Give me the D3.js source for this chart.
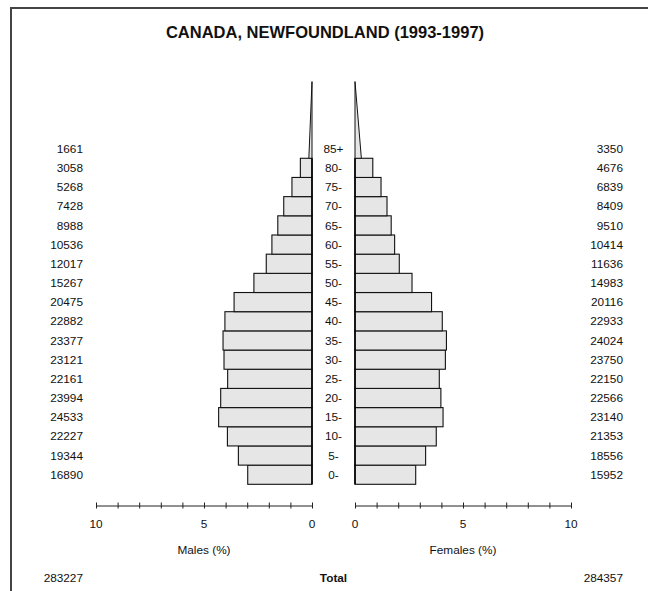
<!DOCTYPE html>
<html>
<head>
<meta charset="utf-8">
<script src="https://cdn.jsdelivr.net/npm/d3@7"></script>
<style>
  body { margin: 0; background: #fff; }
  text { font-family: "Liberation Sans", Arial, Helvetica, sans-serif; fill: #111; }
</style>
</head>
<body>
<div id="chart"></div>
<script>
// age groups, youngest first
var ageGroups = ["0-", "5-", "10-", "15-", "20-", "25-", "30-", "35-", "40-", "45-",
                 "50-", "55-", "60-", "65-", "70-", "75-", "80-", "85+"];
var males   = [16890, 19344, 22227, 24533, 23994, 22161, 23121, 23377, 22882, 20475,
               15267, 12017, 10536, 8988, 7428, 5268, 3058, 1661];
var females = [15952, 18556, 21353, 23140, 22566, 22150, 23750, 24024, 22933, 20116,
               14983, 11636, 10414, 9510, 8409, 6839, 4676, 3350];
var totalMales = 283227, totalFemales = 284357;
var axisTicks = [0, 1, 2, 3, 4, 5, 6, 7, 8, 9, 10];
var axisLabels = [0, 5, 10];
var title = "CANADA, NEWFOUNDLAND (1993-1997)";

var W = 648, H = 591;
var fs = "11.8px";
var grand = totalMales + totalFemales;
var pct = function (v) { return v / grand * 100; };

var svg = d3.select("#chart").append("svg").attr("width", W).attr("height", H);

// frame (left + top only, the rest runs off the page)
svg.append("path")
    .attr("d", "M11," + H + "V8H" + W)
    .style("fill", "none").style("stroke", "#444").style("stroke-width", 2);

svg.append("text").attr("x", 325).attr("y", 38)
    .attr("text-anchor", "middle")
    .style("font-weight", "bold").style("font-size", "16.5px")
    .text(title);

var xM = d3.scaleLinear().domain([0, 10]).range([312, 96]);
var xF = d3.scaleLinear().domain([0, 10]).range([355, 571]);
var y = d3.scaleBand().domain(ageGroups).range([484.3, 139.1]);
var step = y.step();

var data = ageGroups.map(function (a, i) {
    return {age: a, m: males[i], f: females[i]};
});
var boxed = data.filter(function (d) { return d.age != "85+"; });
var last = data[data.length - 1];

function bars(xs, key) {
    svg.append("g").selectAll("rect").data(boxed).enter().append("rect")
        .attr("x", function (d) { return Math.min(xs(0), xs(pct(d[key]))); })
        .attr("y", function (d) { return y(d.age); })
        .attr("width", function (d) { return Math.abs(xs(pct(d[key])) - xs(0)); })
        .attr("height", step)
        .style("fill", "#e6e6e6").style("stroke", "#111").style("stroke-width", 1.1);

    // open-ended 85+ group drawn as a triangle over 4 rows, same area as a bar
    var base = y("80-");
    var tip = base - 4 * step;
    var w = xs(pct(last[key]) / 2);
    svg.append("path")
        .attr("d", "M" + xs(0) + "," + base + "L" + w + "," + base + "L" + xs(0) + "," + tip + "Z")
        .style("fill", "#e6e6e6").style("stroke", "#111").style("stroke-width", 1);

    svg.append("line")
        .attr("x1", xs(0)).attr("x2", xs(0))
        .attr("y1", base).attr("y2", y.range()[0])
        .style("stroke", "#000").style("stroke-width", 1.6);
}
bars(xM, "m");
bars(xF, "f");

// row labels
var labels = svg.append("g").style("font-size", fs);
labels.selectAll(".ml").data(data).enter().append("text")
    .attr("x", 83).attr("y", function (d) { return y(d.age) + step / 2; })
    .attr("dy", "0.35em").attr("text-anchor", "end")
    .text(function (d) { return d.m; });
labels.selectAll(".fl").data(data).enter().append("text")
    .attr("x", 623).attr("y", function (d) { return y(d.age) + step / 2; })
    .attr("dy", "0.35em").attr("text-anchor", "end")
    .text(function (d) { return d.f; });
labels.selectAll(".al").data(data).enter().append("text")
    .attr("x", 333.5).attr("y", function (d) { return y(d.age) + step / 2; })
    .attr("dy", "0.35em").attr("text-anchor", "middle")
    .text(function (d) { return d.age; });

// axes
function axis(xs, name) {
    var g = svg.append("g").attr("transform", "translate(0,505.5)");
    g.call(d3.axisBottom(xs).tickValues(axisTicks).tickSizeInner(3).tickSizeOuter(0).tickFormat(""));
    g.selectAll("line").attr("y1", -3).style("stroke", "#222");
    g.select(".domain").style("stroke", "#222");
    g.selectAll(".lab").data(axisLabels).enter().append("text")
        .attr("x", function (d) { return xs(d); }).attr("y", 22)
        .attr("text-anchor", "middle").style("font-size", fs).style("fill", "#111")
        .style("font-family", "'Liberation Sans', Arial, sans-serif")
        .text(function (d) { return d; });
    svg.append("text").attr("x", (xs(0) + xs(10)) / 2).attr("y", 554)
        .attr("text-anchor", "middle").style("font-size", fs).text(name);
}
axis(xM, "Males (%)");
axis(xF, "Females (%)");

svg.append("text").attr("x", 83).attr("y", 582).attr("text-anchor", "end")
    .style("font-size", fs).text(totalMales);
svg.append("text").attr("x", 623).attr("y", 582).attr("text-anchor", "end")
    .style("font-size", fs).text(totalFemales);
svg.append("text").attr("x", 333.5).attr("y", 582).attr("text-anchor", "middle")
    .style("font-size", fs).style("font-weight", "bold").text("Total");
</script>
</body>
</html>
